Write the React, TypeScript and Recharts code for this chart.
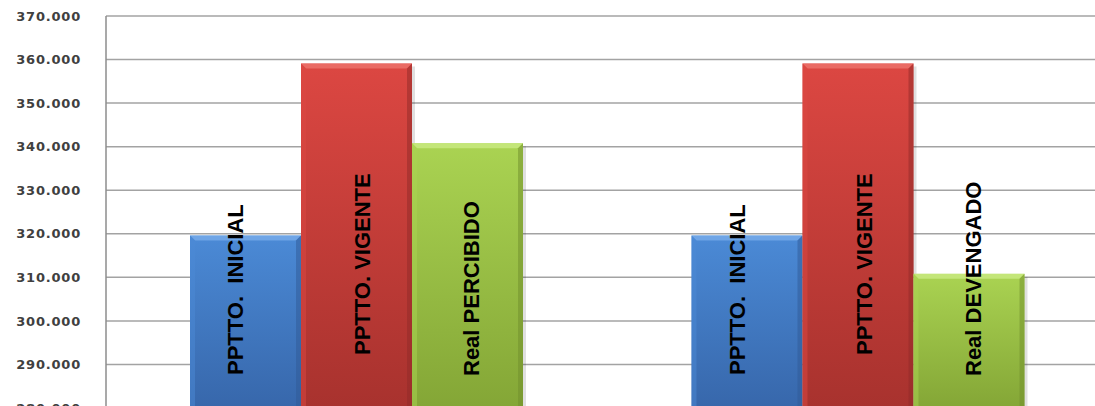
import { BarChart, Bar, XAxis, YAxis, CartesianGrid, LabelList } from 'recharts';

// categories and values (thousands)
const categories = ['PERCIBIDO', 'DEVENGADO'];
const inicialValues = [319.6, 319.6];
const vigenteValues = [359.1, 359.1];
const realValues = [340.8, 310.8];
const inicialLabels = ['PPTTO.  INICIAL', 'PPTTO.  INICIAL'];
const vigenteLabels = ['PPTTO. VIGENTE', 'PPTTO. VIGENTE'];
const realLabels = ['Real PERCIBIDO', 'Real DEVENGADO'];
const yTicks = [280, 290, 300, 310, 320, 330, 340, 350, 360, 370];

const data = categories.map((c, i) => ({
  name: c,
  inicial: inicialValues[i],
  vigente: vigenteValues[i],
  real: realValues[i],
  inicialLabel: inicialLabels[i],
  vigenteLabel: vigenteLabels[i],
  realLabel: realLabels[i],
}));

const palettes: Record<string, { top: string; bottom: string; light: string; dark: string }> = {
  blue: { top: '#4b8ad6', bottom: '#3767ab', light: '#7fb0ec', dark: '#2f5a95' },
  red: { top: '#dc4742', bottom: '#a8322e', light: '#f07a74', dark: '#8f2a27' },
  green: { top: '#aad352', bottom: '#84a636', light: '#cfee8a', dark: '#6f8d2c' },
};

const BevelBar = (props: any) => {
  const { x, y, width, height, tone } = props;
  if (!height || height <= 0) return null;
  const p = palettes[tone];
  const b = 5;
  return (
    <g>
      <rect x={x + 3} y={y + 3} width={width} height={height} fill="#000" opacity={0.12} />
      <rect x={x} y={y} width={width} height={height} fill={`url(#grad-${tone})`} />
      <polygon
        points={`${x},${y} ${x + width},${y} ${x + width - b},${y + b} ${x + b},${y + b}`}
        fill={p.light}
        opacity={0.7}
      />
      <polygon
        points={`${x},${y} ${x + b},${y + b} ${x + b},${y + height} ${x},${y + height}`}
        fill={p.top}
        opacity={0.5}
      />
      <polygon
        points={`${x + width},${y} ${x + width - b},${y + b} ${x + width - b},${y + height} ${x + width},${y + height}`}
        fill={p.dark}
        opacity={0.5}
      />
    </g>
  );
};

const makeLabel = (dx: number, fromBottom: number) => (props: any) => {
  const { x, y, width, height, value } = props;
  const cx = x + width / 2 + dx;
  const by = y + height - fromBottom;
  return (
    <text
      x={cx}
      y={by}
      transform={`rotate(-90 ${cx} ${by})`}
      textAnchor="start"
      dominantBaseline="central"
      fontFamily="'Liberation Sans', Arial, sans-serif"
      fontWeight="bold"
      fontSize={22}
      fill="#000"
      style={{ whiteSpace: 'pre' }}
    >
      {value}
    </text>
  );
};

export default function App() {
  return (
    <div style={{ position: 'absolute', left: 0, top: 0, width: 1095, height: 406, overflow: 'hidden', background: '#fff' }}>
      <BarChart
        width={1109}
        height={420}
        data={data}
        margin={{ top: 16, right: 0, left: 0, bottom: 12 }}
        barCategoryGap="16.75%"
        barGap={0}
      >
        <defs>
          {Object.keys(palettes).map((k) => (
            <linearGradient key={k} id={`grad-${k}`} x1="0" y1="0" x2="0" y2="1">
              <stop offset="0%" stopColor={palettes[k].top} />
              <stop offset="100%" stopColor={palettes[k].bottom} />
            </linearGradient>
          ))}
        </defs>
        <CartesianGrid vertical={false} stroke="#a3a3a3" strokeWidth={1.5} />
        <XAxis dataKey="name" hide />
        <YAxis
          width={106}
          domain={[280, 370]}
          ticks={yTicks}
          interval={0}
          allowDataOverflow
          tickFormatter={(v: number) => v.toFixed(3)}
          tickLine={false}
          tickSize={0}
          tickMargin={25}
          axisLine={{ stroke: '#8c8c8c', strokeWidth: 1.5 }}
          tick={{ fontSize: 13, fontWeight: 'bold', fontFamily: "'DejaVu Sans', Verdana, sans-serif", fill: '#404040', letterSpacing: 0.8 }}
        />
        <Bar dataKey="inicial" isAnimationActive={false} shape={(p: any) => <BevelBar {...p} tone="blue" />}>
          <LabelList dataKey="inicialLabel" content={makeLabel(-10, 33)} />
        </Bar>
        <Bar dataKey="vigente" isAnimationActive={false} shape={(p: any) => <BevelBar {...p} tone="red" />}>
          <LabelList dataKey="vigenteLabel" content={makeLabel(6, 53)} />
        </Bar>
        <Bar dataKey="real" isAnimationActive={false} shape={(p: any) => <BevelBar {...p} tone="green" />}>
          <LabelList dataKey="realLabel" content={makeLabel(4, 32)} />
        </Bar>
      </BarChart>
    </div>
  );
}
